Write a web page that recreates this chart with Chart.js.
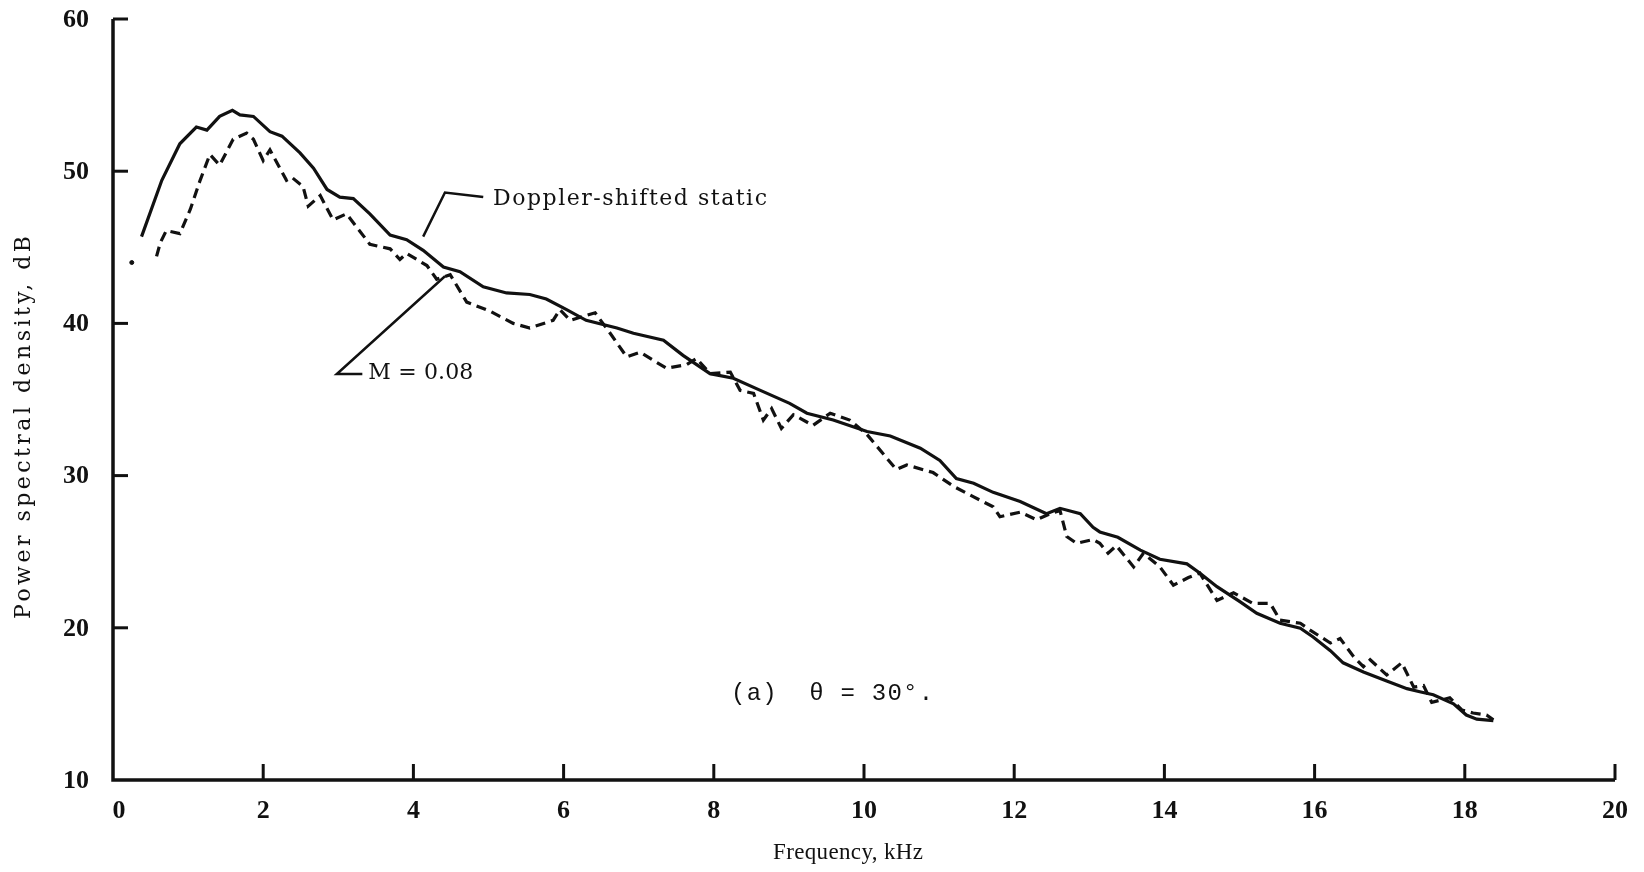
<!DOCTYPE html>
<html><head><meta charset="utf-8">
<style>html,body{margin:0;padding:0;background:#fff;}#wrap{width:1644px;height:872px;position:relative}</style>
<script src="https://cdn.jsdelivr.net/npm/chart.js@4/dist/chart.umd.min.js"></script>
</head><body><div id="wrap"><canvas id="c" width="1644" height="872"></canvas></div>
<script>
// ---- data ----
const staticFreq = [0.38,0.65,0.89,1.11,1.25,1.42,1.59,1.69,1.87,2.09,2.25,2.49,2.67,2.85,3.02,3.20,3.42,3.69,3.91,4.13,4.40,4.62,4.93,5.24,5.55,5.77,6.04,6.30,6.71,6.93,7.33,7.59,7.95,8.26,8.62,9.01,9.24,9.59,10.04,10.35,10.75,11.01,11.23,11.46,11.72,12.08,12.43,12.61,12.88,13.05,13.14,13.38,13.68,13.94,14.30,14.47,14.70,15.01,15.23,15.54,15.81,15.98,16.21,16.38,16.65,16.96,17.23,17.40,17.58,17.85,18.02,18.16,18.38];
const staticPSD  = [45.7,49.4,51.8,52.9,52.7,53.6,54.0,53.7,53.6,52.6,52.3,51.2,50.2,48.8,48.3,48.2,47.2,45.8,45.5,44.8,43.7,43.4,42.4,42.0,41.9,41.6,40.9,40.2,39.7,39.35,38.9,37.9,36.7,36.4,35.6,34.75,34.1,33.65,32.9,32.6,31.8,31.0,29.8,29.5,28.9,28.3,27.5,27.85,27.5,26.6,26.3,25.95,25.1,24.5,24.2,23.6,22.7,21.7,20.95,20.3,19.97,19.4,18.5,17.7,17.1,16.5,16.0,15.8,15.6,15.0,14.27,14.0,13.9];
const flightFreq = [0.58,0.63,0.71,0.89,1.03,1.16,1.29,1.42,1.60,1.78,1.87,2.00,2.09,2.31,2.38,2.53,2.60,2.76,2.93,3.11,3.42,3.69,3.82,3.91,4.18,4.31,4.49,4.71,5.02,5.33,5.55,5.86,5.95,6.09,6.42,6.62,6.84,7.02,7.37,7.64,7.77,7.95,8.22,8.35,8.53,8.66,8.77,8.90,9.06,9.32,9.55,9.81,10.04,10.43,10.57,10.92,11.19,11.46,11.72,11.81,12.08,12.30,12.48,12.61,12.70,12.83,13.05,13.14,13.25,13.36,13.59,13.72,13.94,14.12,14.32,14.47,14.70,14.92,15.18,15.41,15.54,15.81,15.94,16.21,16.34,16.52,16.65,16.74,16.96,17.16,17.32,17.45,17.56,17.80,17.96,18.11,18.29,18.38];
const flightPSD  = [44.4,45.3,46.1,45.9,47.5,49.4,51.1,50.4,52.1,52.5,52.1,50.7,51.4,49.4,49.6,49.0,47.7,48.4,46.8,47.2,45.2,44.9,44.2,44.6,43.8,42.9,43.2,41.4,40.8,40.0,39.7,40.2,40.9,40.2,40.7,39.35,37.8,38.1,37.05,37.3,37.7,36.7,36.8,35.6,35.4,33.65,34.4,33.1,34.0,33.3,34.1,33.65,32.7,30.4,30.7,30.2,29.3,28.6,27.95,27.3,27.6,27.1,27.5,27.7,26.0,25.55,25.8,25.55,24.9,25.4,24.0,24.9,24.0,22.8,23.3,23.6,21.8,22.3,21.6,21.6,20.5,20.3,19.85,19.0,19.3,18.1,17.45,17.9,16.9,17.7,16.1,16.2,15.1,15.4,14.6,14.4,14.27,13.95];
const isolatedFreq = [0.25];
const isolatedPSD  = [44.0];
const xTickValues = [0,2,4,6,8,10,12,14,16,18,20];
const yTickValues = [10,20,30,40,50,60];
const xTitle = 'Frequency, kHz';
const yTitle = 'Power spectral density, dB';
const staticLabel = 'Doppler-shifted static';
const flightLabel = 'M = 0.08';
const caption = '(a)  \u03b8 = 30\u00b0.';
// annotation anchors in data units (kHz, dB)
const staticLeader = [[4.13,45.7],[4.42,48.6],[4.93,48.3]];
const staticLabelAt = [5.06,48.17];
const flightLeader = [[4.42,43.1],[2.98,36.67],[3.32,36.67]];
const flightLabelAt = [3.40,36.74];
const captionAt = [8.23,15.7];

const toPts = (xs, ys) => xs.map((x,i)=>({x:x,y:ys[i]}));
const INK = '#111';

function fitText(ctx, text, x, y, width, font){
  ctx.font = font;
  ctx.letterSpacing = '0px';
  const w = ctx.measureText(text).width;
  const n = Math.max(1, [...text].length - 1);
  const sp = (width - w)/n;
  ctx.letterSpacing = sp.toFixed(2)+'px';
  ctx.fillText(text, x, y);
  ctx.letterSpacing = '0px';
}

const decor = {
  id:'decor',
  afterDraw(chart){
    const ctx = chart.ctx, xs = chart.scales.x, ys = chart.scales.y;
    const px = v=>xs.getPixelForValue(v), py = v=>ys.getPixelForValue(v);
    ctx.save();
    ctx.strokeStyle = INK; ctx.fillStyle = INK; ctx.lineCap='butt';
    // axes
    ctx.lineWidth = 3.5;
    ctx.beginPath();
    ctx.moveTo(px(0), py(60)); ctx.lineTo(px(0), py(10)); ctx.lineTo(px(20), py(10));
    ctx.stroke();
    // ticks (inward)
    ctx.lineWidth = 3;
    yTickValues.forEach(v=>{ if(v===10) return; ctx.beginPath(); ctx.moveTo(px(0), py(v)); ctx.lineTo(px(0)+15, py(v)); ctx.stroke(); });
    xTickValues.forEach(v=>{ if(v===0) return; ctx.beginPath(); ctx.moveTo(px(v), py(10)); ctx.lineTo(px(v), py(10)-16); ctx.stroke(); });
    // tick labels
    ctx.font = 'bold 26px "Liberation Serif"';
    ctx.textBaseline = 'middle';
    ctx.textAlign = 'right';
    yTickValues.forEach(v=>{ ctx.fillText(String(v), px(0)-24, py(v)+1); });
    ctx.textAlign = 'center';
    xTickValues.forEach(v=>{ ctx.fillText(String(v), px(v)+(v===0?6:0), py(10)+31); });
    // axis titles
    ctx.textAlign = 'left';
    fitText(ctx, xTitle, 773, 853, 150, '23px "Liberation Serif"');
    ctx.save();
    ctx.translate(24, 619);
    ctx.rotate(-Math.PI/2);
    fitText(ctx, yTitle, 0, 0, 383, '22px "DejaVu Serif"');
    ctx.restore();
    // leader lines
    ctx.lineWidth = 2.5;
    [staticLeader, flightLeader].forEach(L=>{
      ctx.beginPath();
      L.forEach((p,i)=>{ const X=px(p[0]), Y=py(p[1]); if(i) ctx.lineTo(X,Y); else ctx.moveTo(X,Y); });
      ctx.stroke();
    });
    // labels
    ctx.textBaseline = 'middle'; ctx.textAlign='left';
    fitText(ctx, staticLabel, px(staticLabelAt[0]), py(staticLabelAt[1]), 274, '22px "DejaVu Serif"');
    fitText(ctx, flightLabel, px(flightLabelAt[0]), py(flightLabelAt[1]), 105, '22px "DejaVu Serif"');
    fitText(ctx, caption, px(captionAt[0]), py(captionAt[1]), 202, '24px "Liberation Mono"');
    ctx.restore();
  }
};

new Chart(document.getElementById('c'), {
  type:'scatter',
  data:{ datasets:[
    { label:staticLabel, data:toPts(staticFreq, staticPSD), showLine:true, borderColor:INK, borderWidth:3.2, pointRadius:0, tension:0, fill:false },
    { label:flightLabel, data:toPts(flightFreq, flightPSD), showLine:true, borderColor:INK, borderWidth:3.2, borderDash:[10,6], pointRadius:0, tension:0, fill:false },
    { label:'isolated', data:toPts(isolatedFreq, isolatedPSD), showLine:false, pointRadius:2, pointBackgroundColor:INK, pointBorderColor:INK }
  ]},
  options:{
    responsive:false, animation:false, devicePixelRatio:1,
    layout:{ padding:{ left:113, right:29, top:19, bottom:92 } },
    scales:{
      x:{ type:'linear', min:0, max:20, display:false },
      y:{ type:'linear', min:10, max:60, display:false }
    },
    plugins:{ legend:{display:false}, tooltip:{enabled:false} }
  },
  plugins:[decor]
});
</script></body></html>
